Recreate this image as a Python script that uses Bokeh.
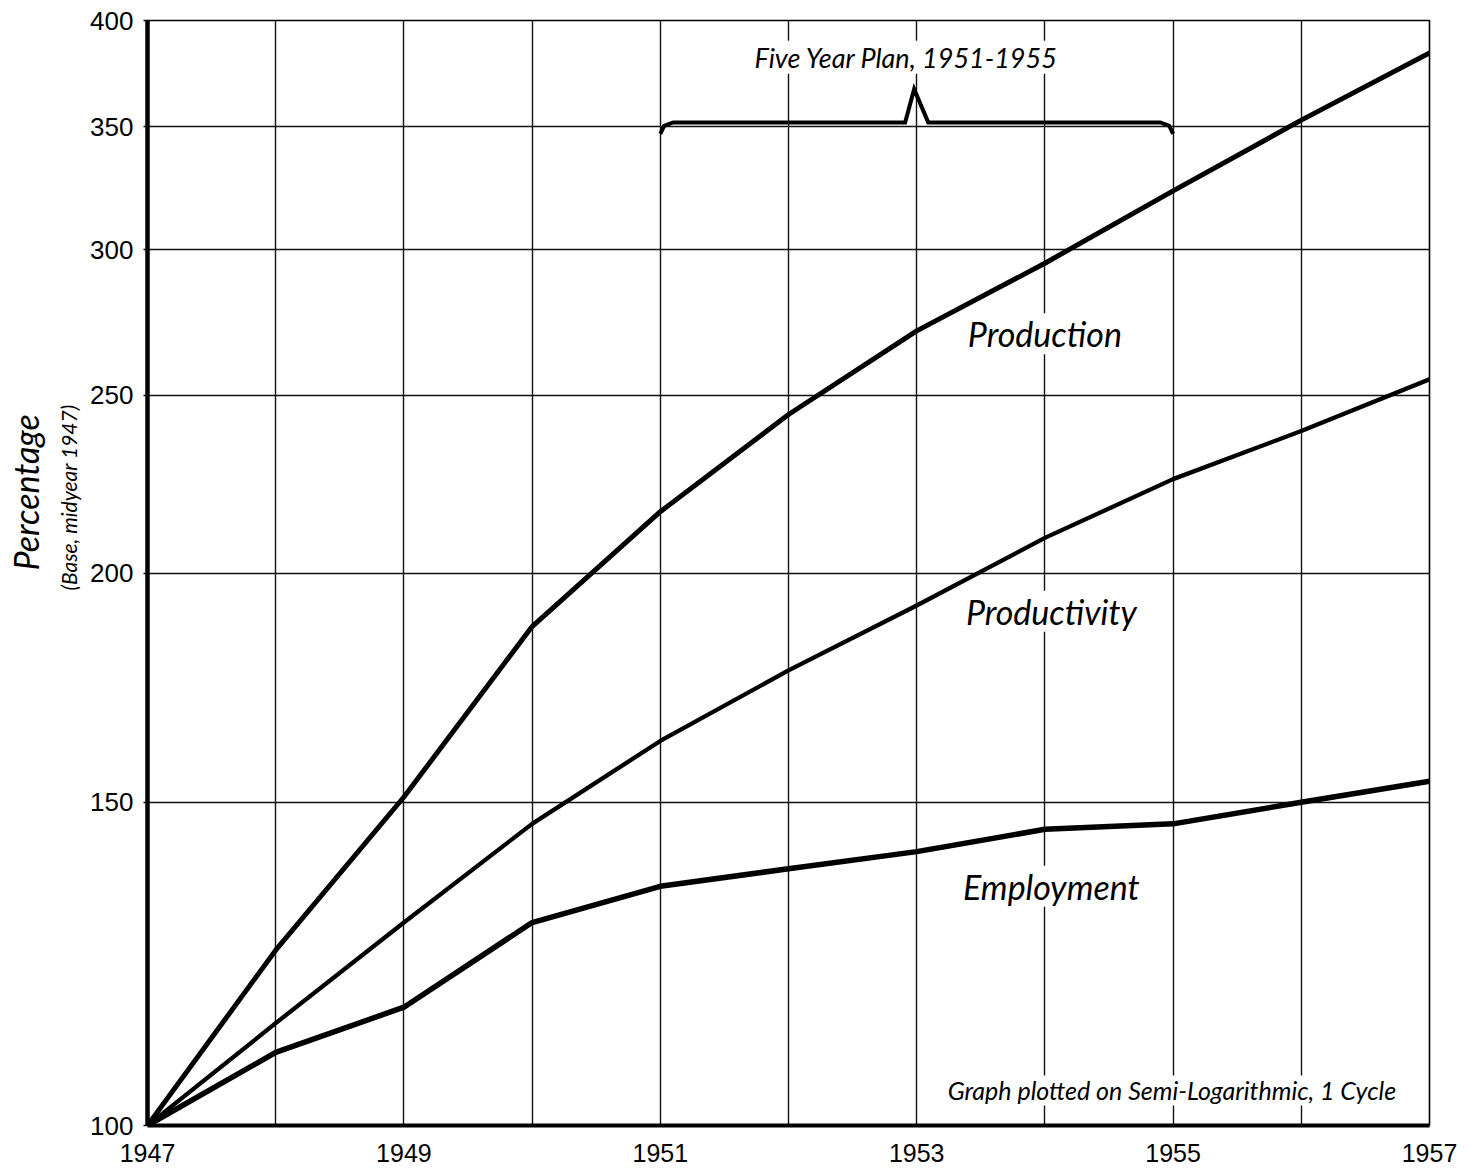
from bokeh.plotting import figure
from bokeh.models import FixedTicker, Label, Range1d, ColumnDataSource, PrintfTickFormatter, Title
from bokeh.embed import file_html
from bokeh.resources import INLINE

# ---- data ----
years = [1947, 1948, 1949, 1950, 1951, 1952, 1953, 1954, 1955, 1956, 1957]
production = [100, 124.6, 151, 187, 216, 244, 271, 295, 323, 353, 384]
productivity = [100, 113.7, 129, 146, 162, 177, 192, 209, 225, 239, 255]
employment = [100, 109.6, 116, 129, 135, 138, 141, 145, 146, 150, 154]
y_ticks = [100, 150, 200, 250, 300, 350, 400]
x_label_years = [1947, 1949, 1951, 1953, 1955, 1957]
plan_start, plan_end = 1951, 1955
plan_title = "Five Year Plan, 1951-1955"
series_labels = [("Production", 1954.0, 270), ("Productivity", 1954.05, 190.6), ("Employment", 1954.05, 135)]

p = figure(
    frame_width=1282, frame_height=1105,
    x_range=Range1d(1947, 1957), y_range=Range1d(100, 400),
    y_axis_type="log",
    min_border_left=147, min_border_top=20, min_border_right=30, min_border_bottom=45,
    output_backend="svg", toolbar_location=None,
    background_fill_color="white", border_fill_color="white",
)

p.outline_line_color = "black"
p.outline_line_width = 1.6

# grids
p.xgrid.ticker = FixedTicker(ticks=years)
p.ygrid.ticker = FixedTicker(ticks=y_ticks)
for g in (p.xgrid, p.ygrid):
    g.grid_line_color = "#111111"
    g.grid_line_width = 1.4

italic_font = "Lato"

# axes
xa = p.xaxis[0]
xa.ticker = FixedTicker(ticks=x_label_years)
xa.axis_line_width = 4
xa.axis_line_color = "black"
xa.major_tick_line_color = None
xa.minor_tick_line_color = None
xa.major_label_text_font = "Liberation Sans"
xa.major_label_text_font_size = "25px"
xa.major_label_text_color = "black"
xa.major_label_standoff = 12

ya = p.yaxis[0]
ya.ticker = FixedTicker(ticks=y_ticks)
ya.axis_line_width = 4.5
ya.axis_line_color = "black"
ya.major_tick_line_color = "black"
ya.major_tick_line_width = 1.5
ya.major_tick_out = 4
ya.major_tick_in = 0
ya.minor_tick_line_color = None
ya.major_label_text_font = "Liberation Sans"
ya.major_label_text_font_size = "26px"
ya.major_label_text_color = "black"
ya.major_label_standoff = 10
ya.formatter = PrintfTickFormatter(format="%d")

# axis titles (placed as side titles so they can sit a little above mid-height)
p.add_layout(Title(text="(Base, midyear 1947)", text_font=italic_font, text_font_style="italic",
                   text_font_size="21px", text_color="black", align="left", offset=535,
                   standoff=14), "left")
p.add_layout(Title(text="Percentage", text_font=italic_font, text_font_style="italic",
                   text_font_size="34px", text_color="black", align="left", offset=555,
                   standoff=2), "left")

src = ColumnDataSource(dict(year=years, production=production,
                            productivity=productivity, employment=employment))
for col, w in (("production", 5), ("productivity", 4.3), ("employment", 5.5)):
    p.line("year", col, source=src, line_color="black", line_width=w,
           line_join="round", line_cap="round")

# brace for the five-year plan
mid = (plan_start + plan_end) / 2
brace_level, brace_end, brace_peak = 352, 347, 367
brace_x = [plan_start, plan_start + 0.03, plan_start + 0.1, mid - 0.09, mid - 0.02, mid + 0.09,
           plan_end - 0.1, plan_end - 0.03, plan_end]
brace_y = [brace_end, 350.5, brace_level, brace_level, brace_peak, brace_level,
           brace_level, 350.5, brace_end]
p.line(brace_x, brace_y, line_color="black", line_width=4, line_join="miter")

p.add_layout(Label(x=mid - 0.08, y=382, text=plan_title, text_font=italic_font,
                   text_font_style="italic", text_font_size="27px", text_align="center",
                   text_baseline="middle", text_color="black",
                   background_fill_color="white", background_fill_alpha=1.0))

for name, lx, ly in series_labels:
    p.add_layout(Label(x=lx, y=ly, text=name, text_font=italic_font,
                       text_font_style="italic", text_font_size="34px",
                       text_align="center", text_baseline="middle", text_color="black",
                       background_fill_color="white", background_fill_alpha=1.0))

p.add_layout(Label(x=1956.74, y=104.5, text="Graph plotted on Semi-Logarithmic, 1 Cycle",
                   text_font=italic_font, text_font_style="italic", text_font_size="25px",
                   text_align="right", text_baseline="middle", text_color="black",
                   background_fill_color="white", background_fill_alpha=1.0))

open("out.html", "w").write(file_html(p, INLINE))
